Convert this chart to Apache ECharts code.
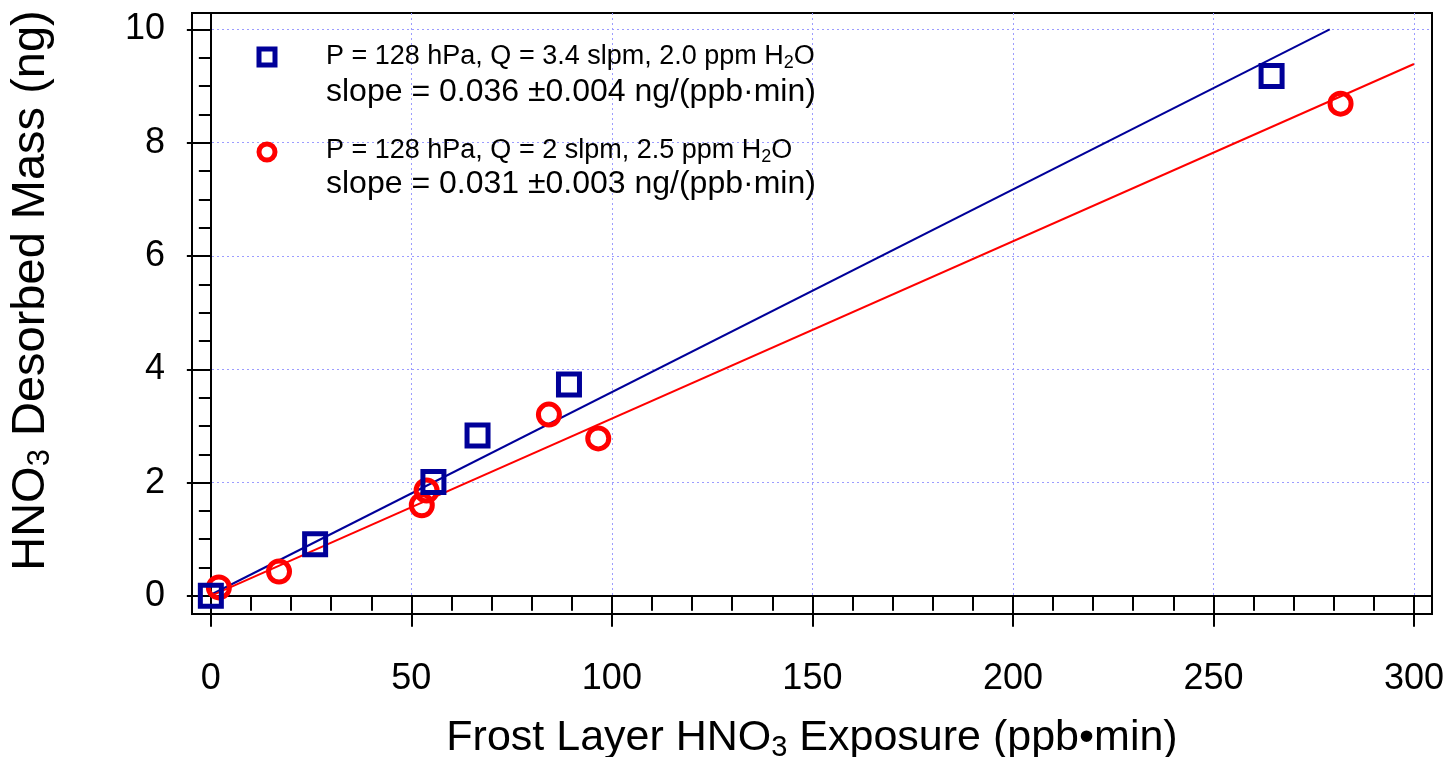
<!DOCTYPE html>
<html>
<head>
<meta charset="utf-8">
<script src="https://cdn.jsdelivr.net/npm/echarts@6/dist/echarts.min.js"></script>
<style>
  html, body { margin: 0; padding: 0; background: #fff; }
  #chart { width: 1454px; height: 757px; }
</style>
</head>
<body>
<div id="chart"></div>
<script>
// blue squares: P = 128 hPa, Q = 3.4 slpm
const blueX = [0, 26, 55.5, 66.5, 89.3, 264.5];
const blueY = [0, 0.91, 2.01, 2.83, 3.73, 9.18];
// red circles: P = 128 hPa, Q = 2 slpm
const redX = [2.0, 17, 52.6, 53.8, 84.3, 96.6, 281.7];
const redY = [0.15, 0.43, 1.6, 1.86, 3.2, 2.78, 8.69];
// fitted lines (end points)
const blueFitX = [0, 279];
const blueFitY = [0.02, 10.0];
const redFitX = [0, 300];
const redFitY = [0.0, 9.39];

const xMajor = [0, 50, 100, 150, 200, 250, 300];
const xMinor = [0, 10, 20, 30, 40, 50, 60, 70, 80, 90, 100, 110, 120, 130, 140, 150,
  160, 170, 180, 190, 200, 210, 220, 230, 240, 250, 260, 270, 280, 290, 300];
const yMajor = [0, 2, 4, 6, 8, 10];
const yMinor = [0, 0.5, 1, 1.5, 2, 2.5, 3, 3.5, 4, 4.5, 5, 5.5, 6, 6.5, 7, 7.5,
  8, 8.5, 9, 9.5, 10];

const BLUE = '#000099';
const RED = '#ff0000';
const FONT = 'Liberation Sans';

const zip = (xs, ys) => xs.map((x, i) => [x, ys[i]]);

const chart = echarts.init(document.getElementById('chart'));

const split = { show: true, lineStyle: { color: '#9c9cff', type: [2, 3], width: 1 } };

chart.setOption({
  animation: false,
  textStyle: { fontFamily: FONT },
  grid: {
    left: 192, top: 13, right: 22, bottom: 143,
    outerBoundsMode: 'none', containLabel: false,
    show: true, borderColor: '#000', borderWidth: 2
  },
  xAxis: [{
    type: 'value', position: 'bottom', min: -4.7, max: 304.5,
    axisLine: { show: true, lineStyle: { color: '#000', width: 2 } },
    axisTick: { show: true, customValues: xMajor, length: 31, inside: false,
      lineStyle: { color: '#000', width: 2 } },
    axisLabel: { customValues: xMajor, margin: 47, fontSize: 36, color: '#000', fontFamily: FONT },
    splitLine: split,
    name: '{n|Frost Layer HNO}{s|3}{n| Exposure (ppb\u2022min)}',
    nameLocation: 'middle', nameGap: 100,
    nameTextStyle: {
      rich: {
        n: { fontSize: 43, color: '#000', fontFamily: FONT, lineHeight: 48 },
        s: { fontSize: 29, color: '#000', fontFamily: FONT, lineHeight: 48, verticalAlign: 'bottom' }
      }
    }
  }, {
    type: 'value', position: 'bottom', min: -4.7, max: 304.5,
    axisLine: { show: false },
    axisTick: { show: true, customValues: xMinor, length: 15,
      lineStyle: { color: '#000', width: 2 } },
    axisLabel: { show: false },
    splitLine: { show: false }
  }],
  yAxis: [{
    type: 'value', position: 'left', min: -0.32, max: 10.29,
    axisLine: { show: true, lineStyle: { color: '#000', width: 2 } },
    axisTick: { show: true, customValues: yMajor, length: 24,
      lineStyle: { color: '#000', width: 2 } },
    axisLabel: { customValues: yMajor, margin: 27, fontSize: 36, color: '#000', fontFamily: FONT },
    splitLine: split,
    name: '{n|HNO}{s|3}{n| Desorbed Mass (ng)}',
    nameLocation: 'middle', nameGap: 136, nameRotate: 90,
    nameTextStyle: {
      padding: [0, 0, 0, 46],
      rich: {
        n: { fontSize: 47, color: '#000', fontFamily: FONT, lineHeight: 50 },
        s: { fontSize: 31, color: '#000', fontFamily: FONT, lineHeight: 50, verticalAlign: 'bottom' }
      }
    }
  }, {
    type: 'value', position: 'left', min: -0.32, max: 10.29,
    axisLine: { show: false },
    axisTick: { show: true, customValues: yMinor, length: 12,
      lineStyle: { color: '#000', width: 2 } },
    axisLabel: { show: false },
    splitLine: { show: false }
  }],
  series: [
    {
      type: 'line', data: zip(blueFitX, blueFitY), showSymbol: false, symbol: 'none',
      lineStyle: { color: BLUE, width: 2 }, silent: true, z: 2
    },
    {
      type: 'line', data: zip(redFitX, redFitY), showSymbol: false, symbol: 'none',
      lineStyle: { color: RED, width: 2 }, silent: true, z: 2
    },
    {
      type: 'scatter', data: zip(redX, redY), symbol: 'circle', symbolSize: 21,
      itemStyle: { color: 'rgba(255,255,255,0)', borderColor: RED, borderWidth: 5, opacity: 1 }, z: 3
    },
    {
      type: 'scatter', data: zip(blueX, blueY), symbol: 'rect', symbolSize: 21,
      itemStyle: { color: 'rgba(255,255,255,0)', borderColor: BLUE, borderWidth: 5, opacity: 1 }, z: 4
    }
  ],
  graphic: [
    { type: 'rect', shape: { x: 259, y: 49, width: 16, height: 16 },
      style: { fill: '#fff', stroke: BLUE, lineWidth: 5 }, z: 10 },
    { type: 'circle', shape: { cx: 267, cy: 152, r: 8 },
      style: { fill: '#fff', stroke: RED, lineWidth: 5 }, z: 10 },
    { type: 'text', x: 326, y: 57, z: 10,
      style: {
        text: '{a|P = 128 hPa, Q = 3.4 slpm, 2.0 ppm H}{s|2}{a|O}',
        verticalAlign: 'middle',
        rich: {
          a: { fontSize: 27, fontFamily: FONT, fill: '#000', lineHeight: 30 },
          s: { fontSize: 18, fontFamily: FONT, fill: '#000', lineHeight: 30, verticalAlign: 'bottom' }
        }
      } },
    { type: 'text', x: 326, y: 92, z: 10,
      style: { text: 'slope = 0.036 \u00b10.004 ng/(ppb\u00b7min)', fontSize: 32, fontFamily: FONT,
        fill: '#000', verticalAlign: 'middle' } },
    { type: 'text', x: 326, y: 151, z: 10,
      style: {
        text: '{a|P = 128 hPa, Q = 2 slpm, 2.5 ppm H}{s|2}{a|O}',
        verticalAlign: 'middle',
        rich: {
          a: { fontSize: 27, fontFamily: FONT, fill: '#000', lineHeight: 30 },
          s: { fontSize: 18, fontFamily: FONT, fill: '#000', lineHeight: 30, verticalAlign: 'bottom' }
        }
      } },
    { type: 'text', x: 326, y: 184, z: 10,
      style: { text: 'slope = 0.031 \u00b10.003 ng/(ppb\u00b7min)', fontSize: 32, fontFamily: FONT,
        fill: '#000', verticalAlign: 'middle' } }
  ]
});
</script>
</body>
</html>
